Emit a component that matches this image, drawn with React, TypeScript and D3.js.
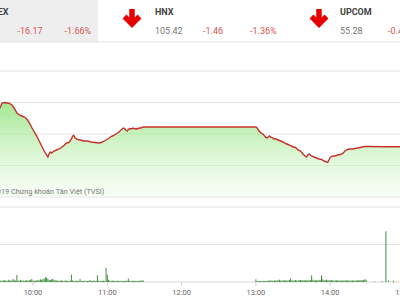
import React from "react";
import * as d3 from "d3";

const priceTimes = [
  "09:33","09:34","09:35","09:37","09:39","09:41","09:43","09:45","09:47","09:49",
  "09:51","09:53","09:55","09:57","09:59","10:01","10:03","10:05","10:07","10:09",
  "10:11","10:12","10:13","10:14","10:15","10:17","10:19","10:21","10:23","10:25",
  "10:27","10:29","10:31","10:32","10:33","10:34","10:36","10:38","10:41","10:44",
  "10:47","10:50","10:53","10:55","10:57","10:59","11:01","11:03","11:05","11:07",
  "11:09","11:11","11:13","11:14","11:15","11:16","11:17","11:18","11:19","11:20",
  "11:21","11:22","11:23","11:24","11:25","11:26","11:27","11:28","11:29","11:30",
  "13:00","13:01","13:02","13:03","13:04","13:05","13:06","13:07","13:08","13:09",
  "13:10","13:11","13:12","13:13","13:14","13:16","13:18","13:20","13:22","13:24",
  "13:26","13:28","13:30","13:32","13:34","13:36","13:38","13:40","13:41","13:42",
  "13:43","13:44","13:45","13:47","13:49","13:51","13:53","13:55","13:57","13:58",
  "13:59","14:00","14:02","14:04","14:06","14:08","14:10","14:12","14:14","14:16",
  "14:18","14:20","14:22","14:24","14:26","14:28","14:30","14:45","15:00"
];
const priceValues = [
  964.05,964.44,964.92,965.0,964.92,964.84,964.6,964.05,963.33,963.02,
  962.86,962.7,962.38,961.75,961.03,960.32,959.68,958.89,958.1,957.3,
  956.67,956.35,956.83,957.14,956.98,957.3,957.46,957.62,957.86,958.17,
  958.57,958.65,959.21,959.68,959.76,959.37,959.13,959.05,958.89,958.89,
  958.73,958.65,958.57,958.65,958.81,959.05,959.29,959.6,959.76,960.0,
  960.24,960.63,960.95,960.87,960.63,960.48,960.71,960.87,960.79,960.87,
  960.95,960.79,960.87,960.79,960.87,960.95,960.95,961.03,961.11,961.11,
  961.11,960.95,960.63,960.4,960.16,960.08,959.92,959.68,959.44,959.37,
  959.52,959.68,959.52,959.44,959.29,959.21,959.05,958.89,958.73,958.49,
  958.33,958.17,957.94,957.86,957.46,957.3,956.83,956.43,956.35,956.67,
  956.83,956.67,956.51,956.35,956.19,956.03,955.95,955.71,955.56,955.48,
  955.87,956.27,956.51,956.51,956.67,956.75,956.9,957.3,957.54,957.62,
  957.62,957.7,957.78,957.86,957.94,958.02,958.02,957.98,957.98
];

// per-minute volume (thousand shares)
const morningStart = "09:33";
const morningVolumes = [
  15,20,12,25,18,22,14,30,20,16,
  25,40,18,22,95,20,15,28,18,22,
  14,20,25,16,30,22,40,18,20,15,
  22,28,20,35,30,38,45,65,55,40,
  30,25,35,40,28,22,18,20,15,18,
  22,14,16,20,18,15,12,18,100,22,
  15,12,18,16,14,40,15,12,18,14,
  16,12,14,27,15,12,18,14,16,90,
  15,12,14,16,18,14,190,95,30,18,
  15,20,14,16,12,18,14,12,16,15,
  14,12,18,16,45,14,12,15,18,12,
  14,16,12,15,18,22,20
];
const afternoonStart = "13:00";
const afternoonVolumes = [
  36,12,10,14,12,10,15,12,14,18,
  16,20,18,22,15,20,18,24,20,31,
  18,22,20,25,18,22,20,28,45,20,
  22,18,25,20,24,22,28,20,25,22,
  24,20,28,22,25,90,30,22,25,20,
  22,28,24,90,35,25,22,31,20,24,
  22,25,20,18,22,20,24,18,22,20,
  18,22,20,24,18,20,22,18,20,22,
  18,22,20,24,22,25,20,28,36,30
];
const closeTimes = ["14:36","14:42","14:45","14:47","14:51"];
const closeVolumes = [8,10,676,20,18];

const tickLabels = ["10:00","11:00","12:00","13:00","14:00","15:00"];
const priceGrid = [950,955,960,965,970];
const volumeGrid = [0,500,1000];

const indexNames = ["VNINDEX","HNX","UPCOM"];
const indexValues = ["","105.42","55.28"];
const indexChanges = ["-16.17","-1.46","-0.4"];
const indexPercents = ["-1.66%","-1.36%",""];

const parseT = (s: string) => {
  const [h, m] = s.split(":").map(Number);
  return new Date(2019, 0, 1, h, m);
};
const addMin = (s: string, k: number) => {
  const d = parseT(s);
  return new Date(d.getTime() + k * 60000);
};

export default function App() {
  const x = d3.scaleTime().domain([parseT("09:00"), parseT("15:00")]).range([-41.3, 404.5]);
  const y = d3.scaleLinear().domain([950, 970]).range([197, 71]);
  const yv = d3.scaleLinear().domain([0, 1000]).range([282, 207]);

  const pts = priceTimes.map((t, i) => ({ t: parseT(t), v: priceValues[i] }));
  const line = d3.line<any>().x(d => x(d.t)).y(d => y(d.v));
  const area = d3.area<any>().x(d => x(d.t)).y0(y(950)).y1(d => y(d.v));

  const vols: { t: Date; v: number }[] = [];
  morningVolumes.forEach((v, i) => vols.push({ t: addMin(morningStart, i), v }));
  afternoonVolumes.forEach((v, i) => vols.push({ t: addMin(afternoonStart, i), v }));
  closeTimes.forEach((t, i) => vols.push({ t: parseT(t), v: closeVolumes[i] }));

  const font = "Roboto, 'Noto Sans', sans-serif";
  const red = "#d9534f";
  const colX = [0, 155, 340];
  const arrowX = [132, 319];

  return (
    <div style={{ position: "absolute", left: 0, top: 0 }}>
      <svg width={400} height={300} style={{ display: "block", background: "#fff" }} fontFamily={font}>
        <defs>
          <linearGradient id="ag" gradientUnits="userSpaceOnUse" x1={0} y1={100} x2={0} y2={200}>
            <stop offset="0" stopColor="#8ee27a" stopOpacity={0.85} />
            <stop offset="0.5" stopColor="#bdf0b0" stopOpacity={0.6} />
            <stop offset="1" stopColor="#eefbea" stopOpacity={0.35} />
          </linearGradient>
        </defs>
        {/* header */}
        <rect x={0} y={0} width={98} height={42} fill="#eeeeee" />
        <line x1={0} x2={400} y1={42} y2={42} stroke="#e4e4e4" />
        {indexNames.map((n, i) => (
          <text key={n} x={i === 0 ? 8.5 : colX[i]} y={15} textAnchor={i === 0 ? "end" : "start"}
            fontSize={9} fontWeight="bold" fill="#444">{n}</text>
        ))}
        {indexValues.map((v, i) => v ? (
          <text key={"v" + i} x={colX[i]} y={34} fontSize={9} fill="#777">{v}</text>
        ) : null)}
        {indexChanges.map((v, i) => (
          <text key={"c" + i} x={i === 0 ? 17.5 : colX[i] + 48} y={34} fontSize={9} fill={red}>{v}</text>
        ))}
        {indexPercents.map((v, i) => v ? (
          <text key={"p" + i} x={i === 0 ? 64.5 : colX[i] + 95} y={34} fontSize={9} fill={red}>{v}</text>
        ) : null)}
        {arrowX.map(ax => (
          <g key={ax} stroke="#e60000" strokeWidth={5.5} fill="none">
            <line x1={ax} x2={ax} y1={9} y2={24} />
            <polyline points={`${ax - 7.5},${16.5} ${ax},${24} ${ax + 7.5},${16.5}`} strokeLinejoin="miter" />
          </g>
        ))}
        {/* price grid */}
        {priceGrid.map(g => (
          <line key={g} x1={0} x2={400} y1={y(g)} y2={y(g)} stroke="#e2e2e2" />
        ))}
        <path d={area(pts) || ""} fill="url(#ag)" />
        <path d={line(pts) || ""} fill="none" stroke="#c8302c" strokeWidth={1.4} />
        <text x={-13} y={194} textAnchor="start" fontSize={7.3} fill="#777">©2019 Chứng khoán Tân Việt (TVSI)</text>
        {/* volume */}
        {volumeGrid.map(g => (
          <line key={"vg" + g} x1={0} x2={400} y1={yv(g)} y2={yv(g)} stroke={g === 0 ? "#d8d8d8" : "#e2e2e2"} />
        ))}
        {vols.map((d, i) => (
          <rect key={i} x={x(d.t) - 0.5} y={yv(d.v)} width={1} height={yv(0) - yv(d.v)} fill="#3f8f3f" />
        ))}
        {tickLabels.map(t => (
          <g key={t}>
            <line x1={x(parseT(t))} x2={x(parseT(t))} y1={282} y2={286} stroke="#cfcfcf" />
            <text x={x(parseT(t))} y={294.5} textAnchor="middle" fontSize={7.5} fill="#666">{t}</text>
          </g>
        ))}
      </svg>
    </div>
  );
}
